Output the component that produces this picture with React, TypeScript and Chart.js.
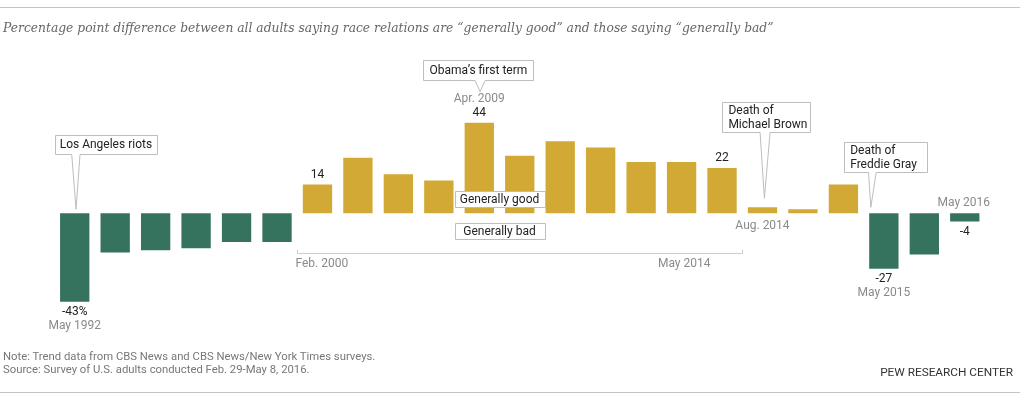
import React, { useEffect, useRef } from "react";
import { Chart, registerables } from "chart.js";

Chart.register(...registerables);

const titleText =
  "Percentage point difference between all adults saying race relations are “generally good” and those saying “generally bad”";
const noteText = "Note: Trend data from CBS News and CBS News/New York Times surveys.";
const sourceText = "Source: Survey of U.S. adults conducted Feb. 29-May 8, 2016.";
const creditText = "PEW RESEARCH CENTER";

const surveyDates = [
  "May 1992", "", "", "", "", "",
  "Feb. 2000", "", "", "", "Apr. 2009", "", "", "", "", "", "May 2014",
  "Aug. 2014", "", "",
  "May 2015", "", "May 2016",
];
const netValues = [
  -43, -19, -18, -17, -14, -14,
  14, 27, 19, 16, 44, 28, 35, 32, 25, 25, 22,
  3, 2, 14,
  -27, -20, -4,
];
const valueLabels = [
  "-43%", "", "", "", "", "",
  "14", "", "", "", "44", "", "", "", "", "", "22",
  "", "", "",
  "-27", "", "-4",
];
const eventNotes = ["Los Angeles riots", "Obama’s first term", "Death of\nMichael Brown", "Death of\nFreddie Gray"];
const eventIndex = [0, 10, 17, 20];
const legendLabels = ["Generally good", "Generally bad"];

const GOOD = "#d2a934";
const BAD = "#36735f";
const FONT = "Roboto, 'Liberation Sans', sans-serif";

function callout(ctx: any, l: number, t: number, r: number, b: number, bx1: number, bx2: number, tx: number, ty: number) {
  l = Math.round(l) + 0.5; t = Math.round(t) + 0.5; r = Math.round(r) + 0.5; b = Math.round(b) + 0.5;
  ctx.beginPath();
  ctx.moveTo(l, t);
  ctx.lineTo(r, t);
  ctx.lineTo(r, b);
  if (bx2 !== bx1) {
    ctx.lineTo(bx2, b);
    ctx.lineTo(tx, ty);
    ctx.lineTo(bx1, b);
  }
  ctx.lineTo(l, b);
  ctx.closePath();
  ctx.fillStyle = "#fff";
  ctx.fill();
  ctx.strokeStyle = "#bdbdbd";
  ctx.lineWidth = 1;
  ctx.stroke();
}

const overlay = {
  id: "overlay",
  afterDatasetsDraw(chart: any) {
    const ctx = chart.ctx;
    const bars = chart.getDatasetMeta(0).data;
    const ys = chart.scales.y;
    const y0 = ys.getPixelForValue(0);
    const step = bars[1].x - bars[0].x;
    ctx.save();
    ctx.textBaseline = "middle";

    // value labels and date labels
    const valueY: number[] = [];
    netValues.forEach((v, i) => {
      const b = bars[i];
      valueY[i] = v >= 0 ? b.y - 10 : b.y + 10.5;
      if (valueLabels[i]) {
        ctx.font = `12px ${FONT}`;
        ctx.fillStyle = "#222";
        ctx.textAlign = "center";
        ctx.fillText(valueLabels[i], b.x, valueY[i]);
      }
    });

    ctx.font = `12px ${FONT}`;
    ctx.fillStyle = "#8a8a8a";
    ctx.textAlign = "center";
    const dateY: Record<number, number> = {
      0: valueY[0] + 14,
      10: valueY[10] - 13.4,
      17: y0 + 12.7,
      20: valueY[20] + 13.3,
      22: y0 - 10.6,
    };
    Object.keys(dateY).forEach((k) => {
      const i = Number(k);
      ctx.fillText(surveyDates[i], bars[i].x + (i === 22 ? -1 : 0), dateY[i]);
    });

    // bracket Feb. 2000 – May 2014
    const bl = Math.round(bars[6].x - step / 2) + 0.5;
    const br = Math.round(bars[16].x + step / 2) + 0.5;
    const by = Math.round(y0 + 39.4) + 0.5;
    ctx.strokeStyle = "#cfcfcf";
    ctx.lineWidth = 1;
    ctx.beginPath();
    ctx.moveTo(bl, by - 4);
    ctx.lineTo(bl, by);
    ctx.lineTo(br, by);
    ctx.lineTo(br, by - 4);
    ctx.stroke();
    ctx.fillStyle = "#8a8a8a";
    ctx.textAlign = "left";
    ctx.fillText(surveyDates[6], bl - 2, y0 + 51);
    ctx.textAlign = "right";
    ctx.fillText(surveyDates[16], br - 32, y0 + 51);

    // legend boxes
    const lx = (bars[10].x + bars[11].x) / 2;
    [[-22.6, -6], [9.4, 26]].forEach(([t, b], k) => {
      callout(ctx, lx - 45, y0 + t, lx + 45, y0 + b, 0, 0, 0, 0);
      ctx.fillStyle = "#222";
      ctx.textAlign = "center";
      ctx.font = `12px ${FONT}`;
      ctx.fillText(legendLabels[k], lx, y0 + (t + b) / 2 + 0.5);
    });

    // event callouts
    const geo = [
      { l: -19.7, r: 82, t: -78.3, b: -59.3, b1: -3, b2: 5.3, tx: 1.3, ty: -4, align: "center" },
      { l: -55.9, r: 54.1, t: -153.3, b: -133, b1: -4.2, b2: 5.8, tx: 0.8, ty: -121.6, align: "center" },
      { l: -40.1, r: 47.6, t: -111.6, b: -81, b1: -2.4, b2: 7.6, tx: 1.9, ty: -15, align: "left" },
      { l: -39.7, r: 43, t: -71.6, b: -41, b1: -15.4, b2: -7.7, tx: -13, ty: -6, align: "left" },
    ];
    eventNotes.forEach((txt, k) => {
      const g = geo[k];
      const cx = bars[eventIndex[k]].x;
      callout(ctx, cx + g.l, y0 + g.t, cx + g.r, y0 + g.b, cx + g.b1, cx + g.b2, cx + g.tx, y0 + g.ty);
      const lines = txt.split("\n");
      ctx.fillStyle = "#222";
      ctx.font = `12px ${FONT}`;
      const midY = y0 + (g.t + g.b) / 2 + 0.5;
      lines.forEach((ln, j) => {
        const ly = midY + (j - (lines.length - 1) / 2) * 14;
        if (g.align === "center") {
          ctx.textAlign = "center";
          ctx.fillText(ln, cx + (g.l + g.r) / 2, ly);
        } else {
          ctx.textAlign = "left";
          ctx.fillText(ln, cx + g.l + 6, ly);
        }
      });
    });
    ctx.restore();
  },
};

export default function App() {
  const ref = useRef<HTMLCanvasElement | null>(null);
  useEffect(() => {
    if (!ref.current) return;
    const chart = new Chart(ref.current, {
      type: "bar",
      data: {
        labels: surveyDates.map((d, i) => d || `s${i}`),
        datasets: [
          {
            data: netValues,
            backgroundColor: netValues.map((v) => (v >= 0 ? GOOD : BAD)),
            borderWidth: 0,
            barPercentage: 0.725,
            categoryPercentage: 1,
          },
        ],
      },
      options: {
        animation: false,
        responsive: false,
        devicePixelRatio: 1,
        layout: { padding: { left: 54.5, right: 35, top: 89.9, bottom: 82.85 } },
        plugins: { legend: { display: false }, tooltip: { enabled: false } },
        scales: {
          x: { display: false, offset: true },
          y: { display: false, min: -50, max: 60 },
        },
      },
      plugins: [overlay],
    });
    return () => chart.destroy();
  }, []);

  return (
    <div style={{ position: "fixed", left: 0, top: 0, width: 1020, height: 399, background: "#fff", overflow: "hidden" }}>
      <canvas ref={ref} width={1020} height={399} style={{ position: "absolute", left: 0, top: 0, width: 1020, height: 399 }} />
      <div style={{ position: "absolute", left: 0, top: 7, width: 1020, height: 1, background: "#c4c4c4" }} />
      <div
        style={{
          position: "absolute", left: 3, top: 19, whiteSpace: "nowrap",
          font: "italic 12.3px 'DejaVu Serif', serif", lineHeight: "18px", color: "#666",
        }}
      >
        {titleText}
      </div>
      <div style={{ position: "absolute", left: 3, top: 350, whiteSpace: "nowrap", font: `11.3px ${FONT}`, lineHeight: "14px", color: "#777" }}>
        {noteText}
      </div>
      <div style={{ position: "absolute", left: 3, top: 363, whiteSpace: "nowrap", font: `11.3px ${FONT}`, lineHeight: "14px", color: "#777" }}>
        {sourceText}
      </div>
      <div style={{ position: "absolute", right: 7, top: 365, whiteSpace: "nowrap", font: `11.8px ${FONT}`, lineHeight: "14px", color: "#333" }}>
        {creditText}
      </div>
      <div style={{ position: "absolute", left: 0, top: 392, width: 1020, height: 1, background: "#c4c4c4" }} />
    </div>
  );
}
